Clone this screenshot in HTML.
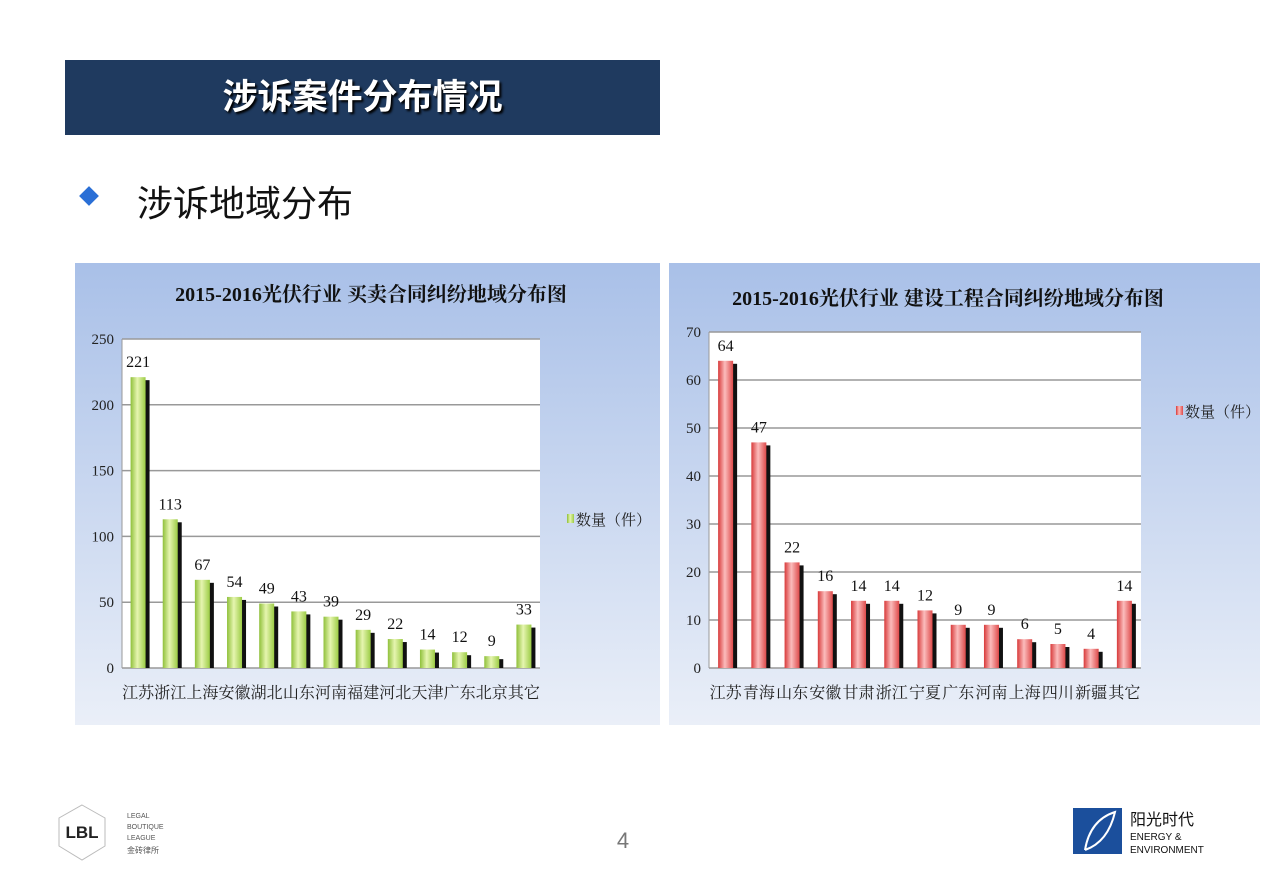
<!DOCTYPE html>
<html><head><meta charset="utf-8"><style>
body{margin:0;width:1280px;height:879px;background:#fff;position:relative;overflow:hidden;font-family:"Liberation Sans","Noto Sans CJK SC",sans-serif}
.banner{position:absolute;left:65px;top:60px;width:595px;height:75px;background:#1f3a5f;color:#fff;font-weight:bold;font-size:35px;line-height:75px;text-align:center;text-shadow:2px 2px 2px #000}
.bullet{position:absolute;left:82px;top:189px;width:14px;height:14px;background:#2a6fd6;transform:rotate(45deg)}
.sub{position:absolute;left:137px;top:175px;font-size:36px;color:#111}
svg{position:absolute;left:0;top:0}
</style></head><body>
<div class="banner">涉诉案件分布情况</div>
<div class="bullet"></div>
<div class="sub">涉诉地域分布</div>
<svg id="s" width="1280" height="879">
<defs>
<linearGradient id="bg" x1="0" y1="0" x2="0" y2="1"><stop offset="0" stop-color="#a9c0e8"/><stop offset="1" stop-color="#eaeff8"/></linearGradient>
<linearGradient id="gr" x1="0" y1="0" x2="1" y2="0"><stop offset="0" stop-color="#8fc03a"/><stop offset="0.45" stop-color="#e6f5b0"/><stop offset="1" stop-color="#9ccc45"/></linearGradient>
<linearGradient id="rd" x1="0" y1="0" x2="1" y2="0"><stop offset="0" stop-color="#d83a3a"/><stop offset="0.45" stop-color="#fbbcbc"/><stop offset="1" stop-color="#de4a4a"/></linearGradient>
</defs>
<rect x="75" y="263" width="585" height="462" fill="url(#bg)"/>
<rect x="669" y="263" width="591" height="462" fill="url(#bg)"/>
<g id="g"></g>
<text x="623" y="848" font-size="22" fill="#777" text-anchor="middle">4</text>
<g>
<polygon points="82,805 105,818 105,846 82,860 59,846 59,818" fill="none" stroke="#bbb"/>
<text x="82" y="838" font-size="17" font-weight="bold" text-anchor="middle" fill="#222">LBL</text>
<text x="127" y="818" font-size="7" fill="#555">LEGAL</text><text x="127" y="829" font-size="7" fill="#555">BOUTIQUE</text><text x="127" y="840" font-size="7" fill="#555">LEAGUE</text><text x="127" y="853" font-size="8" fill="#555">金砖律所</text>
</g>
<g>
<rect x="1073" y="808" width="49" height="46" fill="#1b4f9c"/>
<path d="M1085,850 Q1090,820 1115,812 Q1108,842 1085,850" fill="none" stroke="#fff" stroke-width="2"/>
<text x="1130" y="825" font-size="16" fill="#111">阳光时代</text>
<text x="1130" y="840" font-size="10" fill="#111">ENERGY &amp;</text>
<text x="1130" y="853" font-size="10" fill="#111">ENVIRONMENT</text>
</g>
</svg>
<script>
const leftCats=["江苏","浙江","上海","安徽","湖北","山东","河南","福建","河北","天津","广东","北京","其它"];
const leftVals=[221,113,67,54,49,43,39,29,22,14,12,9,33];
const leftTicks=[0,50,100,150,200,250];
const rightCats=["江苏","青海","山东","安徽","甘肃","浙江","宁夏","广东","河南","上海","四川","新疆","其它"];
const rightVals=[64,47,22,16,14,14,12,9,9,6,5,4,14];
const rightTicks=[0,10,20,30,40,50,60,70];
const NS="http://www.w3.org/2000/svg",G=document.getElementById('g');
function mk(t,a,txt){const e=document.createElementNS(NS,t);for(const k in a)e.setAttribute(k,a[k]);if(txt!==undefined)e.textContent=txt;G.appendChild(e);return e;}
function chart(c){
 const {x0,x1,y0,y1,max,cats,vals,ticks,fill,title,tx,ty,lx,ly,pfx}=c;
 const y=v=>y0-(v/max)*(y0-y1), bw=(x1-x0)/cats.length;
 const t=mk('text',{x:tx,y:ty,'font-size':20,'font-weight':'bold','text-anchor':'middle',fill:'#111','font-family':'"Liberation Serif","Noto Serif CJK SC",serif'},title);
 
 const p=mk('rect',{x:x0,y:y1,width:x1-x0,height:y0-y1,fill:'#fff'});
 
 ticks.forEach(v=>{
  const l=mk('line',{x1:x0,x2:x1,y1:y(v),y2:y(v),stroke:'#999','stroke-width':1.5});
  
  const tl=mk('text',{x:x0-8,y:y(v)+5,'font-size':15,'text-anchor':'end',fill:'#222','font-family':'"Liberation Serif",serif'},v);
  
 });
 mk('line',{x1:x0,x2:x0,y1:y1,y2:y0,stroke:'#999'});
 cats.forEach((cat,i)=>{
  const cx=x0+bw*(i+0.5),top=y(vals[i]),w=15;
  const sh=mk('rect',{x:cx-w/2+4,y:top+3,width:w,height:y0-top-3,fill:'#111'});
  
  const b=mk('rect',{x:cx-w/2,y:top,width:w,height:y0-top,fill:fill});
  
  const vl=mk('text',{x:cx,y:top-10,'font-size':16,'text-anchor':'middle',fill:'#111','font-family':'"Liberation Serif",serif'},vals[i]);
  
  const xl=mk('text',{x:cx,y:y0+30,'font-size':16,'text-anchor':'middle',fill:'#222','font-family':'"Liberation Serif","Noto Serif CJK SC",serif'},cat);
  
 });
 const ls=mk('rect',{x:lx,y:ly-6,width:7,height:9,fill:fill});
 
 const lt=mk('text',{x:lx+9,y:ly+5,'font-size':15,fill:'#222','font-family':'"Liberation Serif","Noto Serif CJK SC",serif'},'数量（件）');
 
}
chart({x0:122,x1:540,y0:668,y1:339,max:250,cats:leftCats,vals:leftVals,ticks:leftTicks,fill:'url(#gr)',title:'2015-2016光伏行业  买卖合同纠纷地域分布图',tx:371,ty:301,lx:567,ly:520,pfx:'left'});
chart({x0:709,x1:1141,y0:668,y1:332,max:70,cats:rightCats,vals:rightVals,ticks:rightTicks,fill:'url(#rd)',title:'2015-2016光伏行业  建设工程合同纠纷地域分布图',tx:948,ty:305,lx:1176,ly:412,pfx:'right'});
</script>
</body></html>
